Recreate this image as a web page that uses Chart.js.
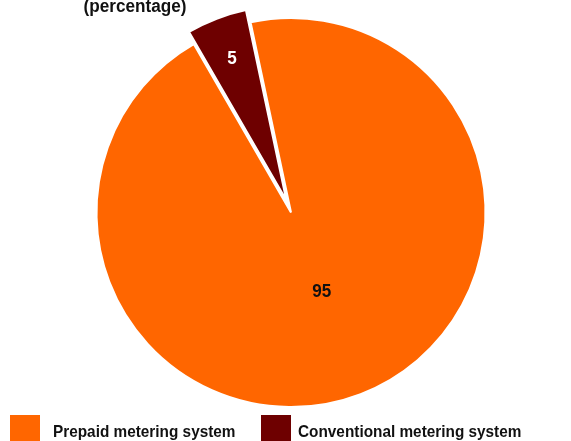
<!DOCTYPE html>
<html>
<head>
<meta charset="utf-8">
<script src="https://cdn.jsdelivr.net/npm/chart.js@4/dist/chart.umd.min.js"></script>
<style>
  html, body { margin: 0; padding: 0; background: #ffffff; }
  #wrap { width: 571px; height: 441px; position: relative; }
</style>
</head>
<body>
<div id="wrap"><canvas id="c" width="571" height="441"></canvas></div>
<script>
// ---- data ----
const categories = ['Prepaid metering system', 'Conventional metering system'];
const shares = [95, 5];
const titleText = '(percentage)';

// ---- styles ----
const sliceColors = ['#FF6600', '#6E0000'];
const labelColors = ['#111111', '#FFFFFF'];
const explodeDist = [0, 13];
const labelRadiusFrac = [0.44, 0.78];
const FONT = '"Liberation Sans", Arial, sans-serif';

function narrowText(ctx, text, x, y, sx) {
  ctx.save();
  ctx.translate(x, y);
  ctx.scale(sx, 1);
  ctx.fillText(text, 0, 0);
  ctx.restore();
}

const explodePlugin = {
  id: 'explode',
  beforeDatasetDraw(chart, args) {
    const ctx = chart.ctx;
    args.meta.data.forEach((arc, i) => {
      const d = explodeDist[i] || 0;
      const mid = (arc.startAngle + arc.endAngle) / 2;
      ctx.save();
      ctx.translate(Math.cos(mid) * d, Math.sin(mid) * d);
      arc.draw(ctx);
      ctx.restore();
    });
    return false;
  },
  afterDatasetsDraw(chart) {
    const ctx = chart.ctx;
    const meta = chart.getDatasetMeta(0);
    ctx.save();
    ctx.font = 'bold 18px ' + FONT;
    ctx.textAlign = 'center';
    ctx.textBaseline = 'middle';
    meta.data.forEach((arc, i) => {
      const mid = (arc.startAngle + arc.endAngle) / 2;
      const r = arc.outerRadius * labelRadiusFrac[i] + (explodeDist[i] || 0);
      ctx.fillStyle = labelColors[i];
      narrowText(ctx, String(chart.data.datasets[0].data[i]),
        arc.x + Math.cos(mid) * r, arc.y + Math.sin(mid) * r, 0.95);
    });
    ctx.restore();
  }
};

const decorPlugin = {
  id: 'decor',
  afterDraw(chart) {
    const ctx = chart.ctx;
    ctx.save();
    // title (partly cut off at top, as in the reference)
    ctx.font = 'bold 17.5px ' + FONT;
    ctx.fillStyle = '#111111';
    ctx.textAlign = 'center';
    ctx.textBaseline = 'alphabetic';
    narrowText(ctx, titleText, 135, 12, 0.98);
    // legend
    const boxX = [10, 261];
    const textX = [53, 298];
    ctx.font = 'bold 16.5px ' + FONT;
    ctx.textAlign = 'left';
    categories.forEach((name, i) => {
      ctx.fillStyle = sliceColors[i];
      ctx.fillRect(boxX[i], 415, 30, 30);
      ctx.fillStyle = '#111111';
      narrowText(ctx, name, textX[i], 437, 0.93);
    });
    ctx.restore();
  }
};

new Chart(document.getElementById('c'), {
  type: 'pie',
  data: {
    labels: categories,
    datasets: [{
      data: shares,
      backgroundColor: sliceColors,
      borderColor: '#FFFFFF',
      borderWidth: 2,
      hoverOffset: 0,
      offset: 0
    }]
  },
  options: {
    responsive: false,
    animation: false,
    events: [],
    rotation: -12,
    layout: { padding: { left: 11, right: 0, top: 17, bottom: 33 } },
    plugins: {
      legend: { display: false },
      title: { display: false },
      tooltip: { enabled: false }
    }
  },
  plugins: [explodePlugin, decorPlugin]
});
</script>
</body>
</html>
